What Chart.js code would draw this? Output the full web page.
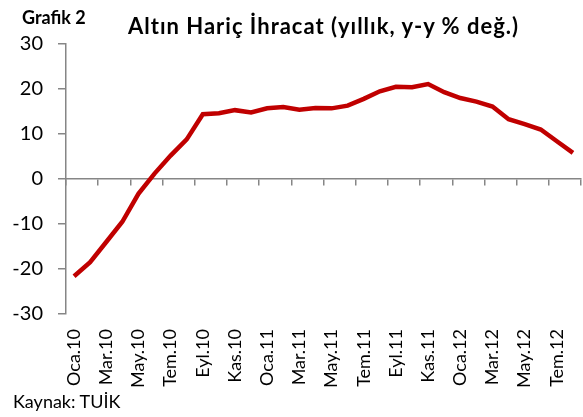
<!DOCTYPE html>
<html>
<head>
<meta charset="utf-8">
<script src="https://cdn.jsdelivr.net/npm/chart.js@4.4.1/dist/chart.umd.min.js"></script>
<style>
  body { margin: 0; background: #fff; }
  #wrap { position: relative; width: 583px; height: 417px; }
  .txt { position: absolute; font-family: Lato, sans-serif; color: #000; white-space: nowrap; line-height: 1; }
</style>
</head>
<body>
<div id="wrap">
  <canvas id="chart" width="583" height="417"></canvas>
  <div class="txt" style="left:22px; top:8px; font-size:18px; font-weight:bold;">Grafik 2</div>
  <div class="txt" style="left:128px; top:15px; font-size:22px; font-weight:bold; letter-spacing:1px;">Altın Hariç İhracat (yıllık, y-y % değ.)</div>
  <div class="txt" style="left:13px; top:392px; font-size:18px;">Kaynak: TUİK</div>
</div>
<script>
// monthly, Oca.10 .. Ağu.12
const months = [
  "Oca.10", "Şub.10", "Mar.10", "Nis.10", "May.10", "Haz.10", "Tem.10", "Ağu.10",
  "Eyl.10", "Eki.10", "Kas.10", "Ara.10", "Oca.11", "Şub.11", "Mar.11", "Nis.11",
  "May.11", "Haz.11", "Tem.11", "Ağu.11", "Eyl.11", "Eki.11", "Kas.11", "Ara.11",
  "Oca.12", "Şub.12", "Mar.12", "Nis.12", "May.12", "Haz.12", "Tem.12", "Ağu.12"
];
const exportsExGold = [
  -21.6, -18.5, -14.0, -9.5, -3.3, 1.2, 5.2, 8.8,
  14.4, 14.6, 15.3, 14.8, 15.7, 16.0, 15.4, 15.8,
  15.7, 16.3, 17.8, 19.5, 20.5, 20.4, 21.1, 19.3,
  18.0, 17.2, 16.1, 13.3, 12.2, 11.0, 8.4, 5.8
];
const yTicks = { min: -30, max: 30, step: 10 };

const AXIS_GREY = "#868686";

new Chart(document.getElementById("chart"), {
  type: "line",
  data: {
    labels: months,
    datasets: [{
      data: exportsExGold,
      borderColor: "#C00000",
      borderWidth: 4.5,
      pointRadius: 0,
      tension: 0,
      fill: false
    }]
  },
  options: {
    responsive: false,
    animation: false,
    layout: { padding: { left: 0, right: 2, top: 44, bottom: 0 } },
    plugins: { legend: { display: false }, tooltip: { enabled: false } },
    scales: {
      // labels only, at the bottom
      x: {
        type: "category",
        position: "bottom",
        offset: true,
        grid: { display: false, drawTicks: false },
        border: { display: false },
        ticks: {
          autoSkip: false,
          minRotation: 90,
          maxRotation: 90,
          padding: 15,
          color: "#000",
          font: { family: "Lato", size: 18 },
          callback: (v, i) => (i % 2 === 0 ? months[i] : "")
        },
        afterFit: s => {
          s.height = 103;
          s.paddingLeft = 0;
          s.paddingRight = 0;
        }
      },
      // axis line at zero with tick marks every 2 months
      x0: {
        type: "category",
        position: { y: 0 },
        offset: true,
        grid: {
          offset: true,
          drawOnChartArea: false,
          tickLength: 6,
          lineWidth: 1.5,
          color: ctx => (ctx.index === undefined || ctx.index % 2 === 0 ? AXIS_GREY : "transparent")
        },
        border: { color: AXIS_GREY, width: 1.5 },
        ticks: { display: false, autoSkip: false }
      },
      y: {
        min: yTicks.min,
        max: yTicks.max,
        ticks: {
          stepSize: yTicks.step,
          padding: 15,
          color: "#000",
          font: { family: "Lato", size: 20 }
        },
        grid: { drawOnChartArea: false, tickLength: 8, lineWidth: 1.5, color: AXIS_GREY },
        border: { color: AXIS_GREY, width: 1.5 },
        afterFit: s => { s.width = 66; }
      }
    }
  }
});
</script>
</body>
</html>
